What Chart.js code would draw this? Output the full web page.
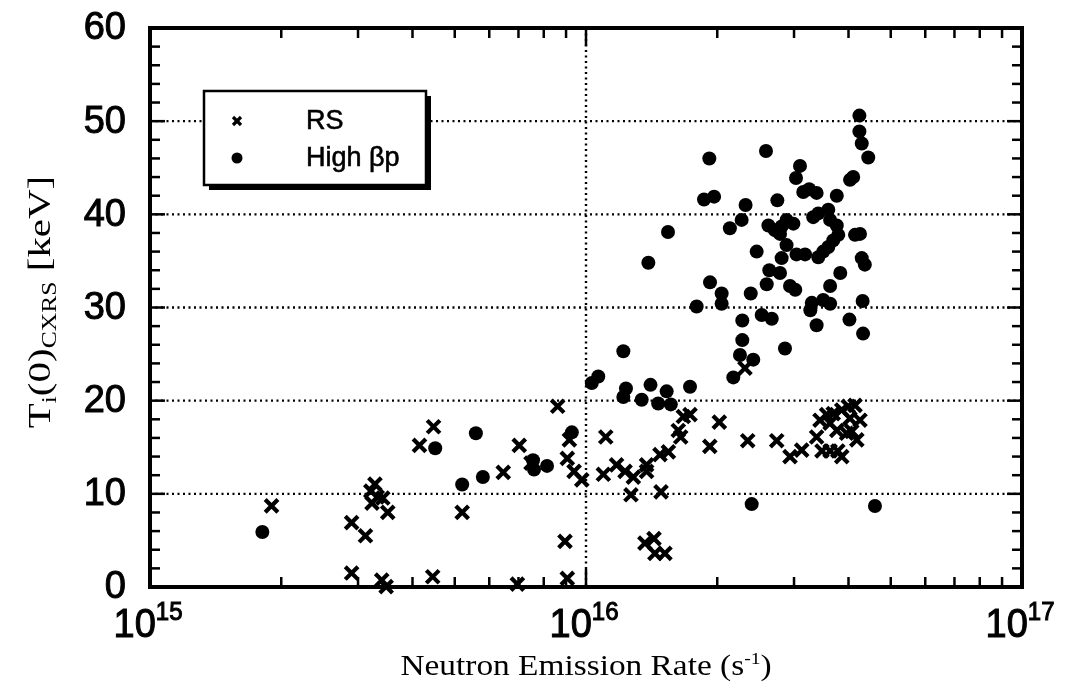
<!DOCTYPE html>
<html>
<head>
<meta charset="utf-8">
<script src="https://cdn.jsdelivr.net/npm/chart.js@4.4.1/dist/chart.umd.min.js"></script>
<style>
  html, body { margin: 0; background: #fff; }
  #wrap { width: 1068px; height: 689px; }
</style>
</head>
<body>
<div id="wrap"><canvas id="chart"></canvas></div>
<script>
// RS discharges
const rsX = [1.90e15, 2.90e15, 3.12e15, 3.28e15, 3.21e15, 3.32e15, 3.42e15, 3.23e15, 3.51e15, 2.90e15,
             3.40e15, 3.48e15, 4.45e15, 4.15e15, 4.47e15, 5.20e15, 6.46e15, 7.03e15, 7.48e15, 8.61e15,
             9.16e15, 9.06e15, 9.39e15, 9.78e15, 8.95e15, 9.06e15, 6.96e15, 1.11e16, 1.096e16, 1.175e16,
             1.229e16, 1.284e16, 1.268e16, 1.377e16, 1.377e16, 1.478e16, 1.545e16, 1.486e16, 1.628e16, 1.649e16,
             1.732e16, 1.672e16, 1.923e16, 2.022e16, 1.365e16, 1.432e16, 1.439e16, 1.517e16, 2.315e16, 2.349e16,
             2.738e16, 2.937e16, 3.124e16, 3.38e16, 3.441e16, 3.564e16, 3.69e16, 3.86e16, 3.996e16, 4.14e16,
             4.25e16, 4.18e16, 3.96e16, 3.76e16, 3.63e16, 3.477e16, 3.63e16, 3.78e16, 3.86e16, 4.07e16,
             4.03e16];
const rsY = [8.7, 6.9, 5.5, 11.05, 10.3, 9.66, 9.55, 9.0, 8.0, 1.5,
             0.75, 0.05, 1.1, 15.2, 17.2, 8.0, 12.3, 15.2, 13.3, 19.4,
             15.8, 13.8, 12.4, 11.5, 4.9, 0.93, 0.3, 16.1, 12.1, 13.1,
             12.4, 11.8, 9.9, 13.1, 12.4, 14.2, 14.5, 10.2, 16.8, 16.1,
             18.5, 18.3, 15.1, 17.7, 4.7, 5.2, 3.6, 3.6, 23.5, 15.7,
             15.7, 14.0, 14.7, 16.1, 17.9, 18.5, 18.6, 19.0, 19.4, 19.5,
             17.9, 15.8, 16.5, 16.8, 17.6, 14.6, 14.6, 14.6, 14.0, 16.7,
             18.1];

// High beta-p discharges
const hbX = [1.81e15, 4.51e15, 5.59e15, 5.20e15, 5.80e15, 7.56e15, 7.60e15, 8.14e15, 9.28e15, 1.031e16,
             1.067e16, 1.218e16, 1.235e16, 1.218e16, 1.342e16, 1.406e16, 1.464e16, 1.531e16, 1.565e16, 1.732e16,
             1.39e16, 1.542e16, 1.925e16, 2.047e16, 2.047e16, 1.794e16, 2.387e16, 2.597e16, 2.633e16, 2.463e16,
             2.529e16, 2.667e16, 2.283e16, 2.283e16, 2.255e16, 2.419e16, 2.177e16, 4.237e16, 4.237e16, 4.29e16,
             4.44e16, 2.587e16, 1.918e16, 1.865e16, 1.967e16, 2.323e16, 2.275e16, 2.138e16, 3.096e16, 3.032e16,
             4.032e16, 4.10e16, 3.15e16, 3.25e16, 3.38e16, 3.76e16, 2.747e16, 2.62e16, 2.71e16, 2.786e16,
             2.884e16, 2.99e16, 3.32e16, 3.41e16, 3.595e16, 3.63e16, 3.76e16, 3.79e16, 3.69e16, 3.595e16,
             3.50e16, 3.41e16, 2.884e16, 3.04e16, 3.18e16, 2.81e16, 4.14e16, 4.25e16, 4.29e16, 4.36e16,
             2.786e16, 3.83e16, 3.63e16, 2.937e16, 3.02e16, 3.295e16, 3.27e16, 3.50e16, 3.63e16, 4.31e16,
             3.38e16, 4.02e16, 4.32e16, 2.86e16, 2.399e16, 4.60e16, 2.81e16];
const hbY = [5.9, 14.9, 16.5, 11.0, 11.8, 13.6, 12.6, 13.0, 16.6, 21.9,
             22.6, 25.3, 21.3, 20.4, 20.1, 21.7, 19.7, 21.0, 19.6, 21.5,
             34.8, 38.1, 32.7, 31.5, 30.4, 30.1, 31.5, 32.5, 34.0, 36.0,
             29.2, 28.8, 28.6, 26.5, 24.9, 24.4, 22.5, 50.6, 48.9, 47.6,
             46.1, 46.8, 46.0, 41.6, 41.9, 41.0, 39.4, 38.5, 45.2, 43.9,
             43.7, 44.0, 42.4, 42.7, 42.3, 42.0, 41.5, 38.8, 38.3, 37.9,
             39.4, 39.0, 39.7, 40.1, 40.5, 39.4, 38.8, 37.8, 37.2, 36.5,
             36.0, 35.4, 36.7, 35.7, 35.7, 35.3, 37.8, 37.9, 35.3, 34.6,
             33.7, 33.7, 32.3, 32.3, 31.9, 30.5, 29.7, 30.8, 30.4, 30.7,
             28.1, 28.7, 27.2, 25.6, 8.9, 8.7, 38.7];

const yTicks = [0, 10, 20, 30, 40, 50, 60];
const yGrid = [10, 20, 30, 40, 50];
const xDecades = [15, 16, 17];
const xGrid = [1e16];
const seriesNames = ['RS', 'High \u03b2p'];

const SANS = '"Liberation Sans", Arial, sans-serif';
const SERIF = '"Liberation Serif", "Times New Roman", serif';

const toPoints = (xs, ys) => xs.map((v, i) => ({ x: v, y: ys[i] }));

function line(ctx, x1, y1, x2, y2) {
    ctx.beginPath();
    ctx.moveTo(x1, y1);
    ctx.lineTo(x2, y2);
    ctx.stroke();
}

// text with a thin outline so it reads as heavy as the scanned original
function heavyText(ctx, txt, x, y, w) {
    ctx.fillText(txt, x, y);
    if (w) {
        ctx.lineWidth = w;
        ctx.strokeText(txt, x, y);
    }
}

// draws pieces [text, font, dy] one after the other, centred on cx, stretched by sx/sy
function drawPieces(ctx, pieces, cx, baseY, sx = 1, sy = 1, w = 0) {
    let total = 0;
    pieces.forEach(p => { ctx.font = p[1]; total += ctx.measureText(p[0]).width; });
    ctx.save();
    ctx.translate(cx, baseY);
    ctx.scale(sx, sy);
    let x = -total / 2;
    ctx.textAlign = 'left';
    ctx.textBaseline = 'alphabetic';
    pieces.forEach(p => {
        ctx.font = p[1];
        heavyText(ctx, p[0], x, p[2], w);
        x += ctx.measureText(p[0]).width;
    });
    ctx.restore();
}

const framePlugin = {
    id: 'frame',
    beforeDatasetsDraw(chart) {
        const { ctx, chartArea: a, scales: { x, y } } = chart;
        ctx.save();
        ctx.strokeStyle = '#000';
        ctx.lineWidth = 2.4;
        ctx.setLineDash([2, 3.5]);
        yGrid.forEach(v => { const py = y.getPixelForValue(v); line(ctx, a.left, py, a.right, py); });
        xGrid.forEach(v => { const px = x.getPixelForValue(v); line(ctx, px, a.top, px, a.bottom); });
        ctx.restore();
    },
    afterDatasetsDraw(chart) {
        const { ctx, chartArea: a, scales: { x, y } } = chart;
        ctx.save();
        ctx.strokeStyle = '#000';
        ctx.fillStyle = '#000';

        // frame
        ctx.lineWidth = 4;
        ctx.strokeRect(a.left, a.top, a.right - a.left, a.bottom - a.top);

        // y ticks, both sides, every 2
        ctx.lineWidth = 2.5;
        for (let v = 0; v <= 60; v += 2) {
            const py = y.getPixelForValue(v);
            const len = v % 10 === 0 ? 15 : 10;
            line(ctx, a.left, py, a.left + len, py);
            line(ctx, a.right, py, a.right - len, py);
        }
        // x ticks, log minors
        for (let d = 15; d <= 17; d++) {
            for (let m = 1; m <= 9; m++) {
                if (d === 17 && m > 1) break;
                const px = x.getPixelForValue(m * Math.pow(10, d));
                const len = m === 1 ? 18 : 10;
                line(ctx, px, a.bottom, px, a.bottom - len);
                line(ctx, px, a.top, px, a.top + len);
            }
        }

        // y tick labels
        ctx.font = '38px ' + SANS;
        ctx.textAlign = 'right';
        ctx.textBaseline = 'middle';
        yTicks.forEach(v => heavyText(ctx, String(v), 126, y.getPixelForValue(v) + 1, 1));

        // x tick labels 10^n
        xDecades.forEach(d => {
            const px = x.getPixelForValue(Math.pow(10, d));
            drawPieces(ctx, [
                ['10', '38px ' + SANS, 0],
                [String(d), '24px ' + SANS, -16]
            ], px - 2, 637, 1, 1.05, 1);
        });

        // axis titles
        drawPieces(ctx, [
            ['Neutron Emission Rate (s', '29px ' + SERIF, 0],
            ['-1', '17px ' + SERIF, -11],
            [')', '29px ' + SERIF, 0]
        ], 586, 675, 1.15, 1);

        ctx.save();
        ctx.translate(50, 302);
        ctx.rotate(-Math.PI / 2);
        drawPieces(ctx, [
            ['T', '32px ' + SERIF, 0],
            ['i', '20px ' + SERIF, 6],
            ['(0)', '32px ' + SERIF, 0],
            ['CXRS', '20px ' + SERIF, 6],
            [' [keV]', '32px ' + SERIF, 0]
        ], 0, 0, 1.28, 1);
        ctx.restore();

        // legend box with drop shadow
        const lx = 204, ly = 91, lw = 222, lh = 94;
        ctx.fillStyle = '#fff';
        ctx.fillRect(lx, ly, lw, lh);
        ctx.fillStyle = '#000';
        ctx.fillRect(lx + 5, ly + lh, lw, 5);
        ctx.fillRect(lx + lw, ly + 5, 5, lh);
        ctx.lineWidth = 2.5;
        ctx.strokeRect(lx, ly, lw, lh);

        const ds = chart.data.datasets;
        const rows = [ly + 30, ly + 67];
        ds.forEach((set, i) => {
            const cy = rows[i];
            if (set.pointStyle === 'crossRot') {
                ctx.lineWidth = 3.2;
                line(ctx, 233, cy - 4, 241, cy + 4);
                line(ctx, 233, cy + 4, 241, cy - 4);
            } else {
                ctx.beginPath();
                ctx.arc(237, cy, 5.5, 0, Math.PI * 2);
                ctx.fill();
            }
            ctx.font = '27px ' + SANS;
            ctx.textAlign = 'left';
            ctx.textBaseline = 'middle';
            heavyText(ctx, set.label, 306, cy + 1, 0.6);
        });
        ctx.restore();
    }
};

new Chart(document.getElementById('chart'), {
    type: 'scatter',
    data: {
        datasets: [
            {
                label: seriesNames[0],
                data: toPoints(rsX, rsY),
                pointStyle: 'crossRot',
                pointRadius: 9,
                borderColor: '#000',
                backgroundColor: '#000',
                pointBorderWidth: 4.2
            },
            {
                label: seriesNames[1],
                data: toPoints(hbX, hbY),
                pointStyle: 'circle',
                pointRadius: 7,
                borderColor: '#000',
                backgroundColor: '#000',
                pointBorderWidth: 0
            }
        ]
    },
    options: {
        responsive: true,
        maintainAspectRatio: false,
        animation: false,
        clip: false,
        layout: { padding: { left: 150, top: 28, right: 46, bottom: 102 } },
        plugins: { legend: { display: false }, tooltip: { enabled: false } },
        scales: {
            x: { type: 'logarithmic', min: 1e15, max: 1e17, display: false },
            y: { type: 'linear', min: 0, max: 60, display: false }
        }
    },
    plugins: [framePlugin]
});
</script>
</body>
</html>
